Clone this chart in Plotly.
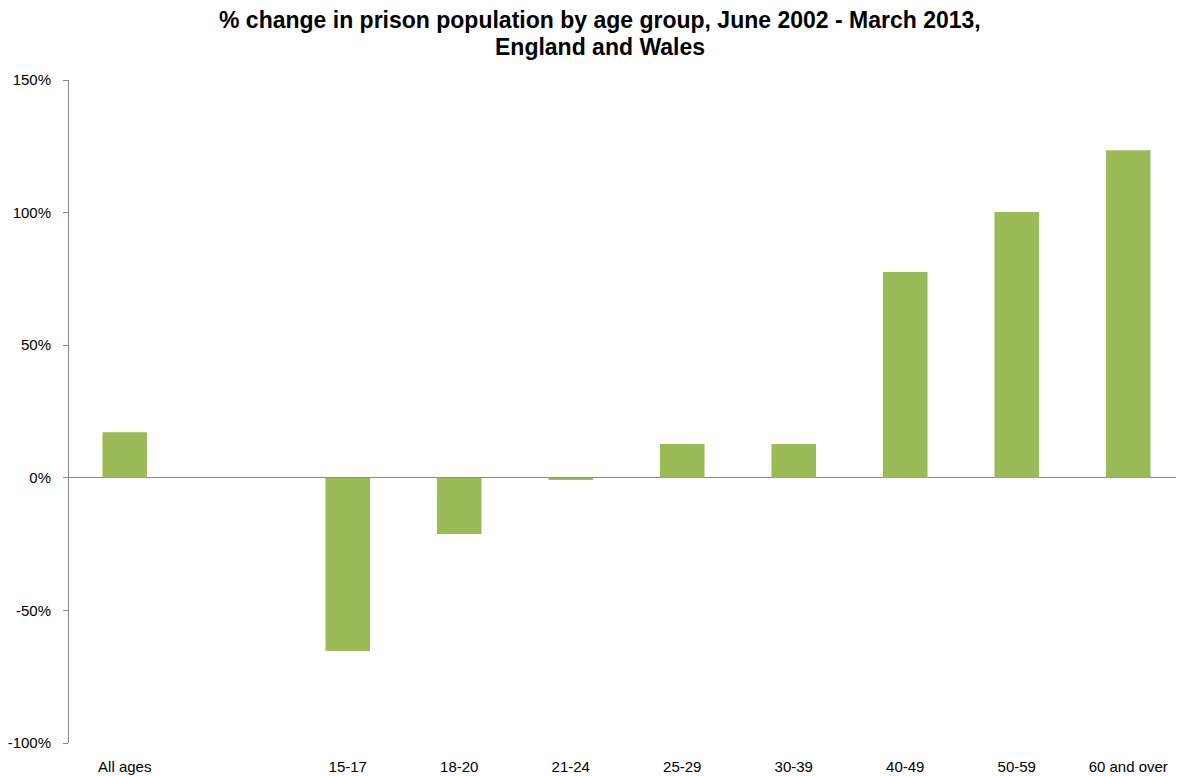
import plotly.graph_objects as go

categories = ["All ages", " ", "15-17", "18-20", "21-24", "25-29", "30-39", "40-49", "50-59", "60 and over"]
values = [17.2, None, -65.3, -21.2, -0.8, 12.7, 12.7, 77.6, 100.2, 123.5]
y_ticks = [-100, -50, 0, 50, 100, 150]
y_tick_labels = ["-100%", "-50%", "0%", "50%", "100%", "150%"]

title_line1 = "% change in prison population by age group, June 2002 - March 2013,"
title_line2 = "England and Wales"

fig = go.Figure(go.Bar(x=categories, y=values, marker=dict(color="#9BBB59", line=dict(width=0))))

title_font = dict(family="Liberation Sans, Arial, sans-serif", size=23, color="black", weight="bold")

fig.update_layout(
    width=1176, height=768,
    margin=dict(l=61, r=0, t=72, b=33),
    paper_bgcolor="white", plot_bgcolor="white",
    bargap=0.6,
    showlegend=False,
    font=dict(family="Liberation Sans, Arial, sans-serif", size=15, color="black"),
    annotations=[
        dict(text=title_line1, xref="paper", yref="paper", x=0.476, y=1, xanchor="center",
             yanchor="middle", yshift=60, showarrow=False, font=title_font),
        dict(text=title_line2, xref="paper", yref="paper", x=0.476, y=1, xanchor="center",
             yanchor="middle", yshift=33, showarrow=False, font=title_font),
    ],
    xaxis=dict(type="category", categoryorder="array", categoryarray=categories,
               showline=False, showgrid=False, zeroline=False,
               ticks="outside", ticklen=10, tickcolor="rgba(0,0,0,0)",
               tickfont=dict(size=15)),
    yaxis=dict(range=[-100, 150], tickvals=y_ticks, ticktext=y_tick_labels,
               showgrid=False, showline=True, linecolor="#868686", linewidth=1,
               ticks="outside", ticklen=5, tickcolor="#868686", ticklabelstandoff=9,
               zeroline=True, zerolinecolor="#868686", zerolinewidth=1,
               tickfont=dict(size=15)),
)

fig.write_html("out.html")
